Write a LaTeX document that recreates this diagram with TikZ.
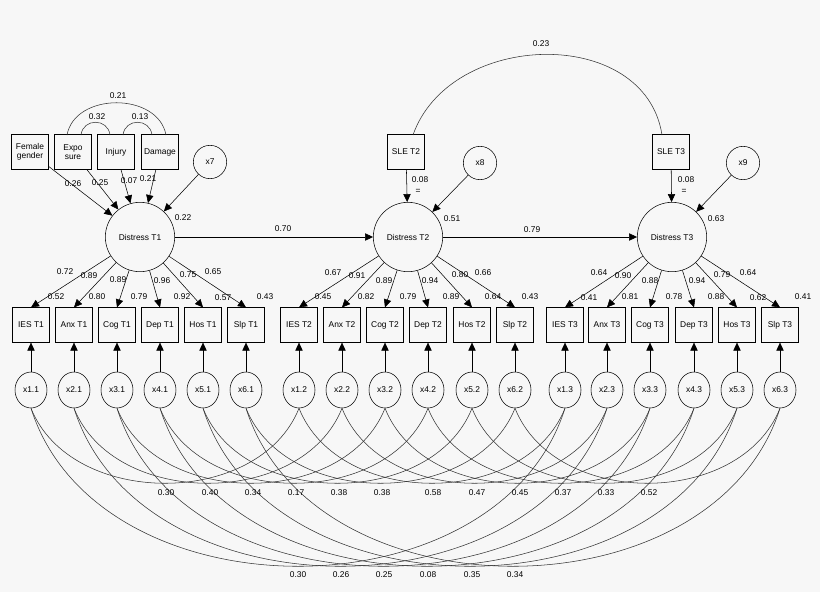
\documentclass[tikz,border=0pt]{standalone}
\usepackage{fontspec}
\setmainfont{Liberation Sans}
\usetikzlibrary{arrows.meta,shapes.geometric}
\begin{document}
\begin{tikzpicture}[x=0.75pt,y=-0.75pt,
  every node/.style={font=\fontsize{6.3}{7}\selectfont},
  lbl/.style={inner sep=0pt},
  obs/.style={draw,thin,minimum width=28pt,minimum height=26pt,inner sep=1pt,align=center},
  lat/.style={draw,thin,circle,minimum size=52pt,inner sep=0pt},
  err/.style={draw,thin,circle,minimum size=25pt,inner sep=0pt},
  res/.style={draw,thin,ellipse,minimum width=24pt,minimum height=27pt,inner sep=0pt},
  arr/.style={draw,thin,-{Triangle[length=6pt,width=5.5pt]}},
  cov/.style={draw,thin,black!80}]
\fill[black!3] (0,0) rectangle (820,592);
\useasboundingbox (0,0) rectangle (820,592);
% latent
\node[lat] (D1) at (140,237) {Distress T1};
\node[lat] (D2) at (408,237) {Distress T2};
\node[lat] (D3) at (672,237) {Distress T3};
% predictors
\node[obs] (fem) at (30,152) {Female\\gender};
\node[obs] (exp) at (73,152) {Expo\\sure};
\node[obs] (inj) at (116,152) {Injury};
\node[obs] (dam) at (160,152) {Damage};
\node[err] (x7) at (210,162) {x7};
\node[obs] (sle2) at (406,152) {SLE T2};
\node[obs] (sle3) at (671,152) {SLE T3};
\node[err] (x8) at (480,163) {x8};
\node[err] (x9) at (743,163) {x9};
\draw[arr] (fem) -- (D1);
\draw[arr] (exp) -- (D1);
\draw[arr] (inj) -- (D1);
\draw[arr] (dam) -- (D1);
\draw[arr] (x7) -- (D1);
\draw[arr] (sle2) -- (D2);
\draw[arr] (x8) -- (D2);
\draw[arr] (sle3) -- (D3);
\draw[arr] (x9) -- (D3);
\draw[arr] (D1) -- (D2);
\draw[arr] (D2) -- (D3);
% covariances top
\coordinate (e1) at (81,135); \coordinate (i1) at (110,135);
\coordinate (i2) at (123,135); \coordinate (d1) at (152,135);
\coordinate (e2) at (67,135); \coordinate (d2) at (166,135);
\draw[cov] (e1) .. controls (83,118) and (108,118) .. (i1);
\draw[cov] (i2) .. controls (125,118) and (150,118) .. (d1);
\draw[cov] (e2) .. controls (75,92) and (158,92) .. (d2);
\coordinate (s2) at (413,135); \coordinate (s3) at (662,135);
\draw[cov] (s2) .. controls (450,30) and (645,25) .. (s3);
\node[lbl] at (97,117) {0.32};
\node[lbl] at (140,117) {0.13};
\node[lbl] at (118,96) {0.21};
\node[lbl] at (541,44) {0.23};
\node[lbl] at (73,184) {0.26};
\node[lbl] at (100,183) {0.25};
\node[lbl] at (129,181) {0.07};
\node[lbl] at (148,179) {0.21};
\node[lbl] at (183,218) {0.22};
\node[lbl] at (283,229) {0.70};
\node[lbl] at (420,180) {0.08};
\node[lbl] at (418,191) {=};
\node[lbl] at (452,219) {0.51};
\node[lbl] at (686,180) {0.08};
\node[lbl] at (684,191) {=};
\node[lbl] at (716,219) {0.63};
\node[lbl] at (532,230) {0.79};
% indicators
\foreach \t/\i/\n/\xx in {1/1/IES/31,1/2/Anx/74,1/3/Cog/117,1/4/Dep/160,1/5/Hos/203,1/6/Slp/246,
  2/1/IES/299,2/2/Anx/342,2/3/Cog/385,2/4/Dep/428,2/5/Hos/472,2/6/Slp/515,
  3/1/IES/565,3/2/Anx/607,3/3/Cog/650,3/4/Dep/694,3/5/Hos/737,3/6/Slp/780}{
    \node[obs] (b\i\t) at (\xx,325) {\n\ T\t};
    \node[res] (r\i\t) at (\xx,390) {x\i.\t};
    \draw[arr] (r\i\t) -- (b\i\t);
    \draw[arr] (D\t) -- (b\i\t.north);
}
% loadings
\foreach \x/\y/\v in {65/272/0.72,89/276/0.89,118/280/0.89,162/281/0.96,188/275/0.75,213/272/0.65,
 56/297/0.52,97/297/0.80,139/297/0.79,182/297/0.92,223/298/0.57,265/297/0.43,
 333/273/0.67,357/276/0.91,384/281/0.89,430/281/0.94,460/275/0.80,483/273/0.66,
 323/297/0.45,366/297/0.82,408/297/0.79,451/297/0.89,493/297/0.64,530/297/0.43,
 599/273/0.64,623/276/0.90,650/281/0.88,697/281/0.94,722/275/0.79,748/273/0.64,
 589/298/0.41,630/297/0.81,674/297/0.78,716/297/0.88,758/298/0.62,803/297/0.41}
 {\node[lbl] at (\x,\y) {\v};}
% residual covariances
\foreach \i in {1,...,6}{
  \draw[cov] (r\i1.south) .. controls ([xshift=30,yshift=-75]r\i1.south) and ([xshift=-30,yshift=-75]r\i2.south) .. (r\i2.south);
  \draw[cov] (r\i2.south) .. controls ([xshift=30,yshift=-75]r\i2.south) and ([xshift=-30,yshift=-75]r\i3.south) .. (r\i3.south);
  \draw[cov] (r\i1.south) .. controls ([xshift=50,yshift=-158]r\i1.south) and ([xshift=-50,yshift=-158]r\i3.south) .. (r\i3.south);
}
\foreach \x/\v in {166/0.30,210/0.40,253/0.34,296/0.17,339/0.38,382/0.38,433/0.58,477/0.47,520/0.45,563/0.37,606/0.33,649/0.52}
 {\node[lbl] at (\x,493) {\v};}
\foreach \x/\v in {298/0.30,341/0.26,384/0.25,428/0.08,472/0.35,515/0.34}
 {\node[lbl] at (\x,575) {\v};}
\end{tikzpicture}
\end{document}
